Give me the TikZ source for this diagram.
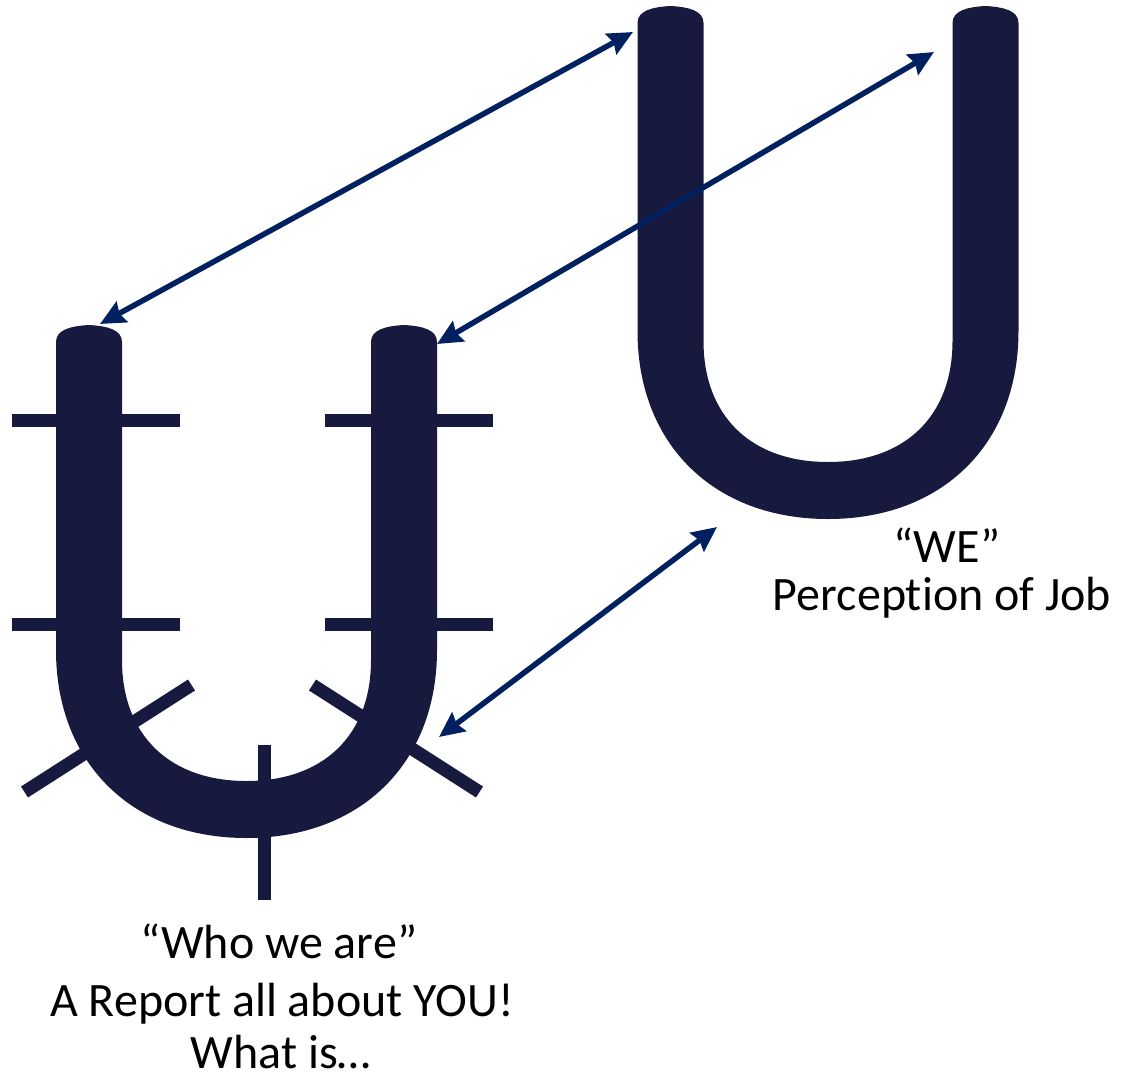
\documentclass[tikz,border=0pt]{standalone}
\usepackage{fontspec}
\setmainfont{Carlito}[RawFeature={-liga;-clig;-dlig;-calt}]
\usetikzlibrary{arrows.meta}
\definecolor{unavy}{RGB}{23,26,62}
\definecolor{arrowblue}{RGB}{0,32,96}
\tikzset{
  ushape/.style={fill=unavy, draw=none},
  tickbar/.style={draw=unavy, line width=13pt, line cap=butt},
  linkarrow/.style={draw=arrowblue, line width=5.5pt,
    {Stealth[length=25pt,width=23pt,inset=3pt]}-{Stealth[length=25pt,width=23pt,inset=3pt]}},
  lbl/.style={font=\fontsize{48}{57}\selectfont, text=black, inner sep=0pt, anchor=base}
}
\newcommand\myUpath{%
  (56,342) -- (56,650) .. controls (56,763) and (132,838) .. (246.5,838)
  .. controls (361,838) and (437,763) .. (437,650) -- (437,342)
  .. controls (437,330) and (423,326) .. (404,325)
  .. controls (385,326) and (371,330) .. (371,342) -- (371,660)
  .. controls (371,735) and (323.7,781) .. (246.5,781)
  .. controls (169.3,781) and (122,735) .. (122,660) -- (122,342)
  .. controls (122,330) and (108,326) .. (89,325)
  .. controls (70,326) and (56,330) .. (56,342) -- cycle}
\begin{document}
\begin{tikzpicture}[x=1pt,y=-1pt]
\useasboundingbox (0,0) rectangle (1121,1076);
% small U with ticks
\fill[ushape] \myUpath;
\draw[tickbar] (12,420) -- (180,420);
\draw[tickbar] (325,420) -- (493,420);
\draw[tickbar] (12,624) -- (180,624);
\draw[tickbar] (325,624) -- (493,624);
\draw[tickbar] (24.5,792) -- (191.5,685);
\draw[tickbar] (479.5,792) -- (312.5,685);
\draw[tickbar] (264.5,745) -- (264.5,900);
% big U
\begin{scope}[shift={(581.5,-319)}]
\fill[ushape] \myUpath;
\end{scope}
% arrow end points
\coordinate (sLtop) at (100,324);
\coordinate (bLtop) at (633,32);
\coordinate (sRtop) at (437,344);
\coordinate (bRtop) at (934,52);
\coordinate (sBot) at (439,737);
\coordinate (bBot) at (717,527);
\draw[linkarrow] (sLtop) -- (bLtop);
\draw[linkarrow] (sRtop) -- (bRtop);
\draw[linkarrow] (sBot) -- (bBot);
% labels
\node[lbl] (we) at (947,562) {“WE”};
\node[lbl] (perc) at (942,610) {Perception of Job};
\node[lbl] (who) at (279,958) {“Who we are”};
\node[lbl] (rep) at (282,1016) {A Report all about YOU!};
\node[lbl] (what) at (281,1068) {What is…};
\end{tikzpicture}
\end{document}
